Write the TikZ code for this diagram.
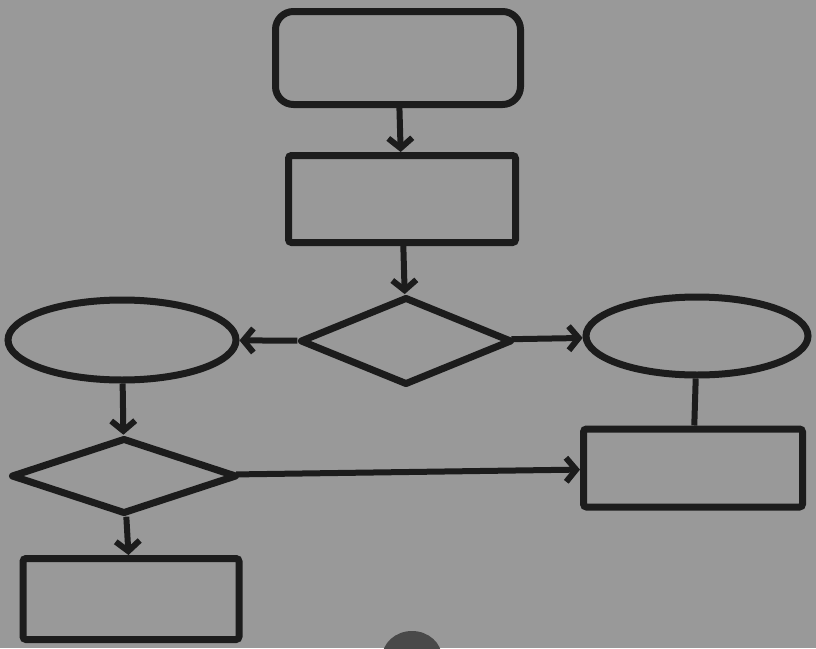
\documentclass[tikz,border=0pt]{standalone}
\usetikzlibrary{shapes.geometric,arrows.meta}
\definecolor{board}{gray}{0.6}
\definecolor{ink}{gray}{0.11}
\begin{document}
\begin{tikzpicture}[x=1pt,y=-1pt,
    box/.style={draw=ink,line width=7pt,inner sep=0pt,rectangle,rounded corners=3pt},
    roundbox/.style={box,rounded corners=18pt},
    oval/.style={draw=ink,line width=7pt,inner sep=0pt,ellipse},
    choice/.style={draw=ink,line width=7pt,inner sep=0pt,diamond,line join=round},
    flow/.style={draw=ink,line width=6pt,-{Straight Barb[length=10pt,width=24pt]}}]
    \useasboundingbox (0,0) rectangle (816,648);
    \fill[board] (0,0) rectangle (816,648);

    \def \Nodes {
      start/398/58/245pt/93pt/roundbox,
      task/402/199/227pt/87pt/box,
      ask/406/341/212pt/88pt/choice,
      leftoval/122/340/228pt/80pt/oval,
      rightoval/697/336/222pt/78pt/oval,
      rightbox/693/468/219pt/78pt/box,
      check/124/476/226pt/76pt/choice,
      done/131/599/216pt/81pt/box}
    \def \Edges {
      start/task,
      task/ask,
      ask/leftoval,
      ask/rightoval,
      leftoval/check,
      check/rightbox,
      check/done}

    \foreach \id / \x / \y / \w / \h / \kind in \Nodes {
      \node[\kind,minimum width=\w,minimum height=\h] (\id) at (\x, \y) {};
    }
    \foreach \a / \b in \Edges {
      \path[flow] (\a) -- (\b);
    }
    \path[draw=ink,line width=6pt] (rightoval) -- (rightbox);

    % somebody standing in front of the board
    \fill[ink!80] (412,658) ellipse (30 and 27);
  \end{tikzpicture}
\end{document}
